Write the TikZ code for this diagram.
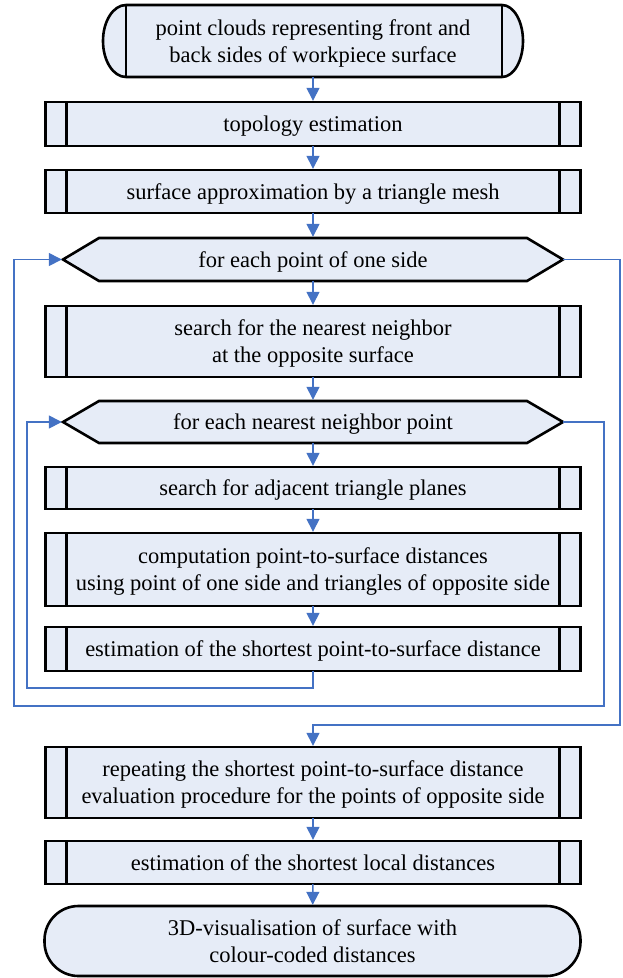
\documentclass[tikz,border=0pt]{standalone}
\usepackage{fontspec}
\setmainfont{Liberation Serif}
\usetikzlibrary{arrows.meta,backgrounds,calc}
\definecolor{boxfill}{RGB}{230,236,247}
\definecolor{flow}{RGB}{68,114,196}
\begin{document}
\begin{tikzpicture}[x=1pt,y=1pt,
  txt/.style={font=\fontsize{22.5}{27}\selectfont, align=center, inner sep=0pt, outer sep=0pt, text depth=0pt},
  bdr/.style={draw=black, line width=2.6pt},
  proc/.style={txt, bdr, fill=boxfill, minimum width=535pt, minimum height=#1},
  flowline/.style={draw=flow, line width=1.4pt},
  arr/.style={flowline, -{Triangle[length=13pt,width=13pt]}, shorten >=1.2pt},
  ]
\useasboundingbox (0,0) rectangle (622,-978);

\node[txt, minimum width=420pt, minimum height=72pt] (start) at (313,-41) {point clouds representing front and\\back sides of workpiece surface};
\node[proc=44pt] (topo) at (313,-124) {topology estimation};
\node[proc=43pt] (surf) at (313,-191.5) {surface approximation by a triangle mesh};
\node[txt, minimum width=500pt, minimum height=43pt] (hex1) at (313,-259.5) {for each point of one side};
\node[proc=71pt] (nn) at (313,-341.5) {search for the nearest neighbor\\at the opposite surface};
\node[txt, minimum width=500pt, minimum height=42pt] (hex2) at (313,-422) {for each nearest neighbor point};
\node[proc=42pt] (adj) at (313,-488) {search for adjacent triangle planes};
\node[proc=73pt] (comp) at (313,-569.5) {computation point-to-surface distances\\using point of one side and triangles of opposite side};
\node[proc=44pt] (est) at (313,-649) {estimation of the shortest point-to-surface distance};
\node[proc=71pt] (rep) at (313,-782.5) {repeating the shortest point-to-surface distance\\evaluation procedure for the points of opposite side};
\node[proc=43pt] (loc) at (313,-862.5) {estimation of the shortest local distances};
\node[txt, bdr, fill=boxfill, minimum width=536pt, minimum height=70pt, rounded corners=34pt] (end) at (312.5,-941) {3D-visualisation of surface with\\colour-coded distances};

\begin{scope}[on background layer]
\draw[bdr, fill=boxfill] ([xshift=23pt]start.north west) -- ([xshift=-21pt]start.north east)
  arc[start angle=90, end angle=-90, x radius=21pt, y radius=36pt]
  -- ([xshift=23pt]start.south west)
  arc[start angle=270, end angle=90, x radius=23pt, y radius=36pt] -- cycle;
\foreach \h in {hex1,hex2}
  \draw[bdr, fill=boxfill] (\h.west) -- ([xshift=36pt]\h.north west) -- ([xshift=-36pt]\h.north east)
    -- (\h.east) -- ([xshift=-36pt]\h.south east) -- ([xshift=36pt]\h.south west) -- cycle;
\end{scope}

\draw[bdr] ([xshift=23pt]start.north west) -- ([xshift=23pt]start.south west)
  ([xshift=-21pt]start.north east) -- ([xshift=-21pt]start.south east);
\foreach \n in {topo,surf,nn,adj,comp,est,rep,loc}
  \draw[bdr] ([xshift=21pt]\n.north west) -- ([xshift=21pt]\n.south west)
    ([xshift=-21pt]\n.north east) -- ([xshift=-21pt]\n.south east);

\coordinate (c1) at (27,-688);
\coordinate (c2) at (604,-706);
\coordinate (c3) at (14,-706);
\coordinate (c4) at (620,-725);

\draw[arr] (start) -- (topo);
\draw[arr] (topo) -- (surf);
\draw[arr] (surf) -- (hex1);
\draw[arr] (hex1) -- (nn);
\draw[arr] (nn) -- (hex2);
\draw[arr] (hex2) -- (adj);
\draw[arr] (adj) -- (comp);
\draw[arr] (comp) -- (est);
\draw[arr] (est.south) |- (c1) |- (hex2.west);
\draw[arr] (hex2.east) -| (c2) -- (c3) |- (hex1.west);
\draw[arr] (hex1.east) -| (c4) -| (rep.north);
\draw[arr] (rep) -- (loc);
\draw[arr] (loc) -- (end);
\end{tikzpicture}
\end{document}
